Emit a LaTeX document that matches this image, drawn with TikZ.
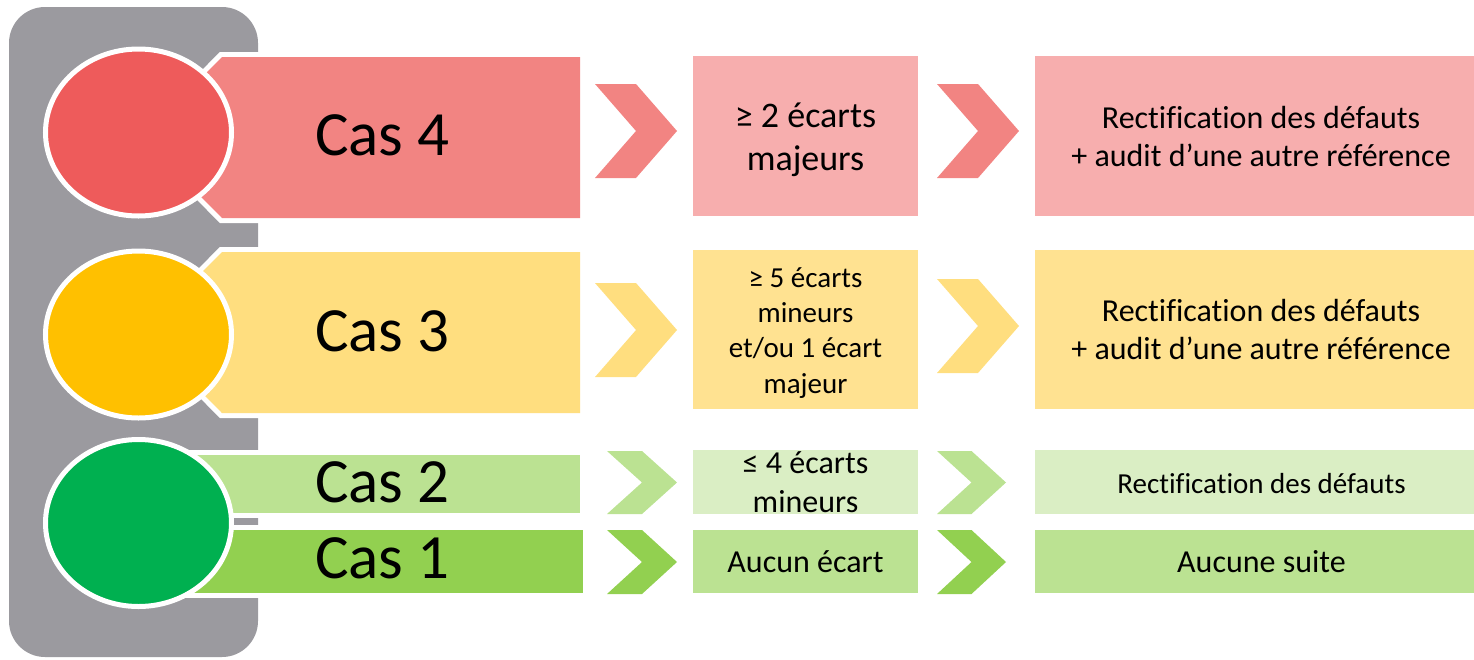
\documentclass[tikz,border=0pt]{standalone}
\usepackage{fontspec}
\setmainfont{Carlito}[Ligatures=CommonOff]
\usetikzlibrary{shapes.geometric}
\definecolor{bodygray}{HTML}{9B9A9F}
\definecolor{redC}{HTML}{EE5B5B}
\definecolor{redB}{HTML}{F28482}
\definecolor{redL}{HTML}{F7AEAE}
\definecolor{yelC}{HTML}{FFC000}
\definecolor{yelB}{HTML}{FFDE7F}
\definecolor{yelL}{HTML}{FFE291}
\definecolor{grnC}{HTML}{00B050}
\definecolor{grnTwo}{HTML}{BBE292}
\definecolor{grnTwoL}{HTML}{DAEEC4}
\definecolor{grnOne}{HTML}{92D050}
\newcommand{\tstrut}{\rule{0pt}{0.8em}}
\newcommand{\chevshape}[5]{% colour, left, tip, top, bottom
  \pgfmathsetmacro\chvmid{(#2+#3)/2}%
  \pgfmathsetmacro\chvcy{(#4+#5)/2}%
  \fill[#1] (#2,#4) -- (\chvmid,#4) -- (#3,\chvcy) -- (\chvmid,#5) -- (#2,#5) -- (\chvmid,\chvcy) -- cycle;}
\begin{document}
\begin{tikzpicture}[x=1pt,y=-1pt,
  lamp/.style={ellipse, draw=white, line width=5pt, minimum width=186pt, minimum height=167pt, inner sep=0pt},
  banner/.style={preaction={draw=white, line width=10pt, line join=miter}},
  box/.style={rectangle, draw=none, inner sep=0pt, outer sep=0pt},
  midbox/.style={box, minimum width=225pt},
  rightbox/.style={box, minimum width=439pt},
  txt/.style={inner sep=0pt, align=center},
  castxt/.style={inner sep=0pt, anchor=base west, font=\fontsize{63}{75}\selectfont}
]
\useasboundingbox (0,0) rectangle (1474,659);
% traffic light body
\fill[bodygray, rounded corners=36pt] (9,7) rectangle (258,657);
% banners
\path[banner, fill=redB] (580,57) -- (222,57) -- (142,137.5) -- (222,218) -- (580,218) -- cycle;
\path[banner, fill=yelB] (580,252) -- (222,252) -- (142,332.5) -- (222,413) -- (580,413) -- cycle;
\path[banner, fill=grnTwo] (150,455) rectangle (580,513);
\path[banner, fill=grnOne] (150,530) rectangle (583,593);
% lamps
\node[lamp, fill=redC] (lamp4) at (138.5,132.5) {};
\node[lamp, fill=yelC] (lamp3) at (138.5,334.5) {};
\node[lamp, fill=grnC] (lamp12) at (138.5,523) {};
% case labels
\node[castxt] (cas4) at (315,155) {Cas 4};
\node[castxt] (cas3) at (315,351) {Cas 3};
\node[castxt] (cas2) at (315,502) {Cas 2};
\node[castxt] (cas1) at (315,578) {Cas 1};
% chevrons
\chevshape{redB}{595}{677}{84}{178}
\chevshape{redB}{937}{1019}{84}{178}
\chevshape{yelB}{595}{677}{283}{377}
\chevshape{yelB}{937}{1019}{279}{373}
\chevshape{grnTwo}{607}{677}{451}{514}
\chevshape{grnTwo}{937}{1006}{451}{514}
\chevshape{grnOne}{607}{677}{530}{594}
\chevshape{grnOne}{937}{1006}{530}{594}
% boxes
\node[midbox, fill=redL, minimum height=160pt] (m4) at (805.5,136) {};
\node[rightbox, fill=redL, minimum height=160pt] (r4) at (1254.5,136) {};
\node[midbox, fill=yelL, minimum height=159pt] (m3) at (805.5,329.5) {};
\node[rightbox, fill=yelL, minimum height=159pt] (r3) at (1254.5,329.5) {};
\node[midbox, fill=grnTwoL, minimum height=64pt] (m2) at (805.5,482) {};
\node[rightbox, fill=grnTwoL, minimum height=64pt] (r2) at (1254.5,482) {};
\node[midbox, fill=grnTwo, minimum height=63pt] (m1) at (805.5,561.5) {};
\node[rightbox, fill=grnTwo, minimum height=63pt] (r1) at (1254.5,561.5) {};
% texts
\node[txt, anchor=north, font=\fontsize{36}{43}\selectfont] (m4t) at (805.5,98.2) {\tstrut≥ 2 écarts\\majeurs};
\node[txt, anchor=north, font=\fontsize{32}{38}\selectfont] (r4t) at (1261,102.4) {\tstrut Rectification des défauts\\+ audit d’une autre référence};
\node[txt, anchor=north, font=\fontsize{29}{35.3}\selectfont] (m3t) at (805.5,263.8) {\tstrut≥ 5 écarts\\mineurs\\et/ou 1 écart\\majeur};
\node[txt, anchor=north, font=\fontsize{32}{38}\selectfont] (r3t) at (1261,295.4) {\tstrut Rectification des défauts\\+ audit d’une autre référence};
\node[txt, anchor=north, font=\fontsize{32}{39}\selectfont] (m2t) at (805.5,447.4) {\tstrut≤ 4 écarts\\mineurs};
\node[txt, anchor=base, font=\fontsize{29}{35}\selectfont] (r2t) at (1261.5,493) {Rectification des défauts};
\node[txt, anchor=base, font=\fontsize{32}{38}\selectfont] (m1t) at (805.5,572) {Aucun écart};
\node[txt, anchor=base, font=\fontsize{32}{38}\selectfont] (r1t) at (1261.5,572) {Aucune suite};
\end{tikzpicture}
\end{document}
